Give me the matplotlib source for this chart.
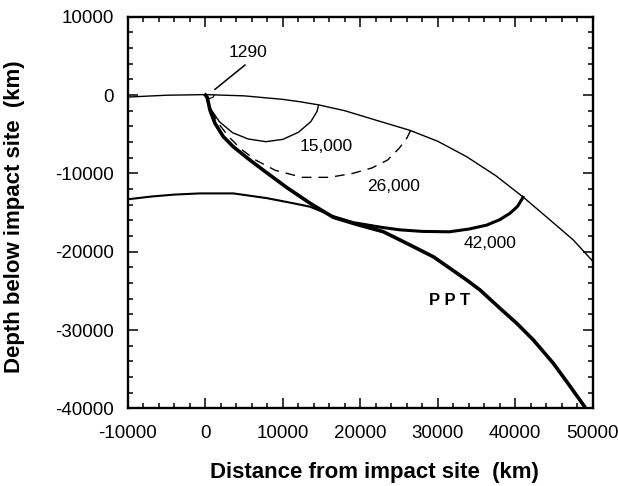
import matplotlib
matplotlib.use("Agg")
import matplotlib.pyplot as plt
from matplotlib.ticker import MultipleLocator

plt.rcParams['font.family'] = ['Liberation Sans', 'DejaVu Sans']
plt.rcParams['axes.unicode_minus'] = False

# ---- data (km) ----
surface_x = [-10000, -5000, 0, 5000, 10000, 12200, 14600, 18000, 22000, 26400,
             30000, 33700, 37500, 41000, 44500, 47500, 50000]
surface_y = [-250, -20, 60, -100, -550, -850, -1250, -2000, -3200, -4500,
             -5900, -7850, -10300, -13000, -15950, -18500, -21200]

ppt_x = [0, 230, 580, 1230, 2300, 3600, 5750, 7900, 10500, 13500, 16500, 19500,
         22960, 25110, 27270, 29410, 31570, 33720, 35440, 38020, 40180, 42330,
         44900, 46640, 48350, 48900]
ppt_y = [0, -300, -1900, -3600, -5300, -6600, -8300, -9900, -11800, -13800,
         -15600, -16500, -17440, -18490, -19560, -20630, -22110, -23600, -24870,
         -27210, -29120, -31250, -34220, -36570, -38930, -39700]

deep_x = [-10000, -7000, -4000, -700, 3600, 7900, 11300, 13500, 16500, 19500, 22500]
deep_y = [-13300, -12950, -12700, -12550, -12550, -13150, -13800, -14250, -15450,
          -16350, -16850]

front42_x = [19500, 22500, 25100, 28000, 31500, 34000, 36300, 38000, 39300, 40300, 41000]
front42_y = [-16350, -16850, -17200, -17400, -17450, -17100, -16600, -15900, -15100,
             -14200, -13050]

front15_x = [0, 700, 1800, 3500, 5500, 7800, 10000, 12000, 13600, 14400, 14600]
front15_y = [0, -1800, -3400, -4800, -5600, -5950, -5650, -4750, -3400, -2100, -1300]

front26_x = [0, 600, 1500, 3000, 4600, 6500, 9000, 12500, 16000, 19000, 21500,
             23500, 25000, 26000, 26500]
front26_y = [0, -1600, -3400, -5300, -6900, -8300, -9600, -10500, -10500, -10000,
             -9300, -8300, -6800, -5500, -4500]

front1290_x = [0, 150, 550, 950, 1150]
front1290_y = [0, -300, -430, -300, 0]

leader_x = [5100, 1230]
leader_y = [3830, 730]

labels = ["1290", "15,000", "26,000", "42,000", "P P T"]
label_x = [5490, 15560, 24250, 36730, 31570]
label_y = [5480, -6590, -11700, -18920, -26240]

xticks = [-10000, 0, 10000, 20000, 30000, 40000, 50000]
yticks = [-40000, -30000, -20000, -10000, 0, 10000]

# ---- figure ----
fig = plt.figure(figsize=(6.18, 4.86), dpi=100)
ax = fig.add_axes([0.2071, 0.1595, 0.7520, 0.8061])

k = 'black'
ax.plot(surface_x, surface_y, color=k, lw=1.0)
ax.plot(deep_x, deep_y, color=k, lw=1.5)
ax.plot(front42_x, front42_y, color=k, lw=2.2)
ax.plot(ppt_x, ppt_y, color=k, lw=2.6)
ax.plot(front15_x, front15_y, color=k, lw=1.0)
ax.plot(front26_x, front26_y, color=k, lw=1.0, dashes=(7, 5))
ax.plot(front1290_x, front1290_y, color=k, lw=0.8)
ax.plot(leader_x, leader_y, color=k, lw=1.1)

for t, x, y in zip(labels, label_x, label_y):
    bold = t.startswith("P")
    ax.text(x, y, t, ha='center', va='center', fontsize=12.5 if not bold else 12,
            fontweight='bold' if bold else 'normal')

ax.set_xlim(-10000, 50000)
ax.set_ylim(-40000, 10000)
ax.set_xticks(xticks)
ax.set_yticks(yticks)
ax.xaxis.set_minor_locator(MultipleLocator(2000))
ax.yaxis.set_minor_locator(MultipleLocator(2000))
ax.tick_params(which='both', direction='in', top=True, right=True, width=1.1)
ax.tick_params(which='major', length=7.5, labelsize=13.5)
ax.tick_params(axis='x', which='major', pad=12)
ax.tick_params(axis='y', which='major', pad=10)
ax.tick_params(which='minor', length=3.8)
for s in ax.spines.values():
    s.set_linewidth(1.7)

ax.set_xlabel("Distance from impact site  (km)", fontsize=16, fontweight='bold')
ax.set_ylabel("Depth below impact site  (km)", fontsize=16, fontweight='bold')
ax.xaxis.set_label_coords(0.531, -0.137)
ax.yaxis.set_label_coords(-0.222, 0.489)

fig.savefig("out.png", dpi=100)
